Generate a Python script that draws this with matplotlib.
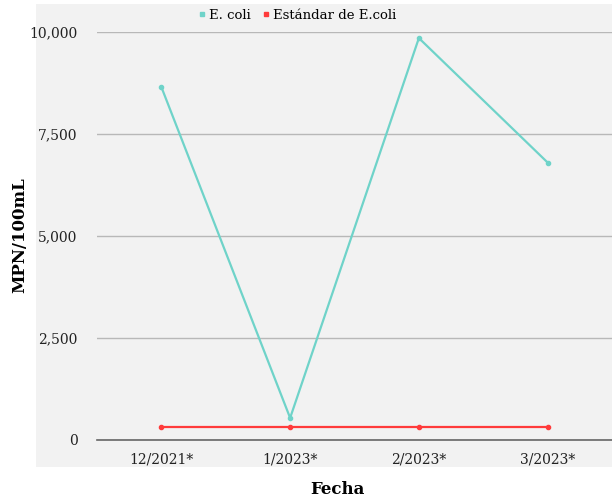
import numpy as np
import matplotlib.pyplot as plt
from matplotlib.patches import Rectangle

# Datos de muestreo
fechas = ["12/2021*", "1/2023*", "2/2023*", "3/2023*"]
ecoli = [8650, 540, 9850, 6800]
estandar = [320, 320, 320, 320]

plt.rcParams['font.family'] = ['DejaVu Serif']

fig = plt.figure(figsize=(6.12, 5.01), dpi=100)
fig.patch.set_facecolor("white")
fondo = Rectangle((0.0588, 0.0679), 1 - 0.0588, 0.992 - 0.0679,
                  transform=fig.transFigure, facecolor="#f2f2f2",
                  edgecolor="none", zorder=-10)
fig.add_artist(fondo)

ax = fig.add_axes([0.1585, 0.1218, 1 - 0.1585, 0.8144])
ax.set_facecolor("none")

x = np.arange(len(fechas))
ax.plot(x, ecoli, color="#6fd3c9", lw=1.6, marker="o", ms=3,
        label="E. coli", clip_on=False, zorder=3)
ax.plot(x, estandar, color="#ff3b3b", lw=1.6, marker="o", ms=3,
        label="Estándar de E.coli", clip_on=False, zorder=3)

ax.set_xlim(-0.5, 3.5)
ax.set_ylim(0, 10000)
ax.set_yticks([0, 2500, 5000, 7500, 10000])
ax.set_yticklabels(["0", "2,500", "5,000", "7,500", "10,000"])
ax.set_xticks(x)
ax.set_xticklabels(fechas)

for s in ["top", "right", "left"]:
    ax.spines[s].set_visible(False)
ax.spines["bottom"].set_color("#666666")
ax.spines["bottom"].set_linewidth(1.2)
ax.grid(axis="y", color="#b8b8b8", lw=1.0)
ax.set_axisbelow(True)
ax.tick_params(axis="both", length=0, labelsize=10, colors="#222222")
ax.tick_params(axis="y", pad=14)
ax.tick_params(axis="x", pad=9)

fig.text(0.551, 0.022, "Fecha", fontsize=12, fontweight="bold",
         ha="center", va="center")
fig.text(0.033, 0.53, "MPN/100mL", rotation=90, fontsize=12,
         fontweight="bold", ha="center", va="center")

leg = ax.legend(loc="lower center", bbox_to_anchor=(0.39, 1.012), ncol=2,
                frameon=False, fontsize=9.5, handlelength=0.4,
                handletextpad=0.3, columnspacing=1.0, borderaxespad=0)
for h in leg.legend_handles:
    h.set_linestyle("none")
    h.set_marker("s")
    h.set_markersize(3.5)

fig.savefig("out.png", dpi=100)
